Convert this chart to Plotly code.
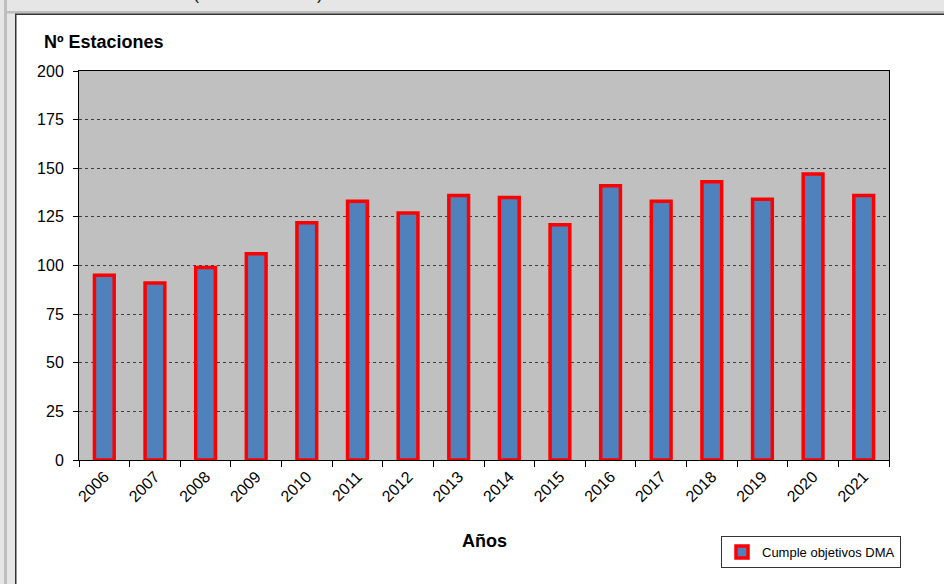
import plotly.graph_objects as go

# data
years = [str(y) for y in range(2006, 2022)]
estaciones = [95, 91, 99, 106, 122, 133, 127, 136, 135, 121, 141, 133, 143, 134, 147, 136]
y_ticks = [0, 25, 50, 75, 100, 125, 150, 175, 200]

W, H = 944, 584
L, R, T, B = 79, 889, 71, 460   # plot area in pixels


def px(x):
    return (x - L) / (R - L)


def py(y):
    return (B - y) / (B - T)


FONT = "Arial, 'Liberation Sans', sans-serif"
LIGHT = "#E6E6E6"
MID = "#BEBEBE"

fig = go.Figure()
fig.add_bar(
    name="Cumple objetivos DMA",
    x=years, y=estaciones,
    width=0.39,
    marker=dict(color="#4F81BD", line=dict(color="#FF0000", width=3.5)),
)


def band(x0, x1, y0, y1, color):
    return dict(type="rect", xref="paper", yref="paper", layer="below",
                x0=px(x0), x1=px(x1), y0=py(y0), y1=py(y1),
                fillcolor=color, line_width=0)


# window frame round the chart (gray border, dark edge of the white panel)
shapes = [
    band(0, W, 0, 14, LIGHT),
    band(0, 15, 0, H, LIGHT),
    band(4, 7, 0, H, MID),
    band(7, W, 11, 13.5, MID),
    band(15, 16.5, 14, H, "#333333"),
    band(15, W, 13.5, 15, "#333333"),
]

annotations = [
    dict(text="<b>Nº Estaciones</b>", xref="paper", yref="paper",
         x=px(42), y=py(42), xanchor="left", yanchor="middle", showarrow=False,
         font=dict(size=18, color="#000000")),
    dict(text="<b>Años</b>", xref="paper", yref="paper",
         x=px(484), y=py(541), xanchor="center", yanchor="middle", showarrow=False,
         font=dict(size=18, color="#000000")),
    # window title, cut off at the top edge
    dict(text="(", xref="paper", yref="paper", x=px(196), y=py(5),
         xanchor="center", yanchor="bottom", showarrow=False,
         font=dict(size=18, color="#222222")),
    dict(text=")", xref="paper", yref="paper", x=px(320), y=py(5),
         xanchor="center", yanchor="bottom", showarrow=False,
         font=dict(size=18, color="#222222")),
]

fig.update_layout(
    width=W, height=H,
    margin=dict(l=L, r=W - R, t=T, b=H - B, pad=0),
    paper_bgcolor="#FFFFFF",
    plot_bgcolor="#C0C0C0",
    font=dict(family=FONT, size=16, color="#000000"),
    showlegend=True,
    legend=dict(
        x=px(901), y=py(536), xanchor="right", yanchor="top",
        bgcolor="#FFFFFF", bordercolor="#333333", borderwidth=1,
        font=dict(size=13), itemwidth=30,
    ),
    shapes=shapes,
    annotations=annotations,
)

fig.update_xaxes(
    type="category", tickangle=-45, tickson="boundaries",
    ticks="outside", ticklen=6, tickcolor="#000000",
    showline=True, linecolor="#000000", linewidth=1, mirror=True,
    showgrid=False, tickfont=dict(size=16),
)
fig.update_yaxes(
    range=[0, 200], tickvals=y_ticks,
    ticks="outside", ticklen=5, tickcolor="#000000", ticklabelstandoff=6,
    showline=True, linecolor="#000000", linewidth=1, mirror=True,
    showgrid=True, gridcolor="#404040", griddash="dot", gridwidth=1,
    zeroline=False, tickfont=dict(size=16),
)

# no page margin, so the figure fills the window
fig.write_html("out.html", config={"displayModeBar": False},
               post_script="document.body.style.margin='0px';")
